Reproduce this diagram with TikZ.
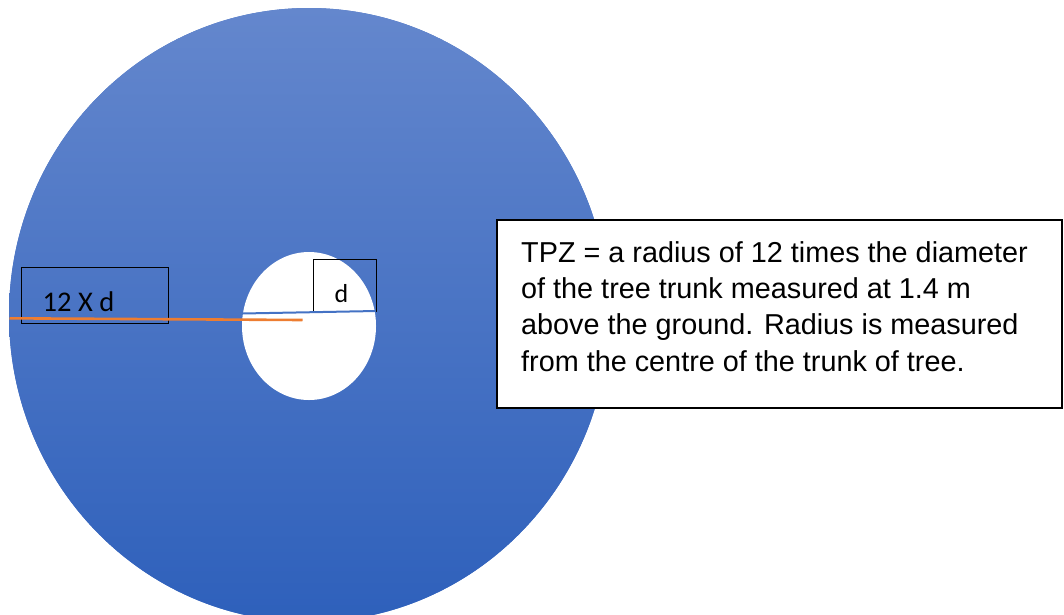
\documentclass[tikz,border=0pt]{standalone}
\usepackage{fontspec}
\setmainfont{Liberation Sans}
\newfontfamily\calibri{Carlito}
\usetikzlibrary{shapes.geometric}

\definecolor{zonetop}{RGB}{100,135,205}
\definecolor{zonebottom}{RGB}{46,96,187}
\definecolor{officeblue}{RGB}{68,114,196}
\definecolor{officeorange}{RGB}{237,125,49}

\tikzset{
  zone/.style={ellipse, inner sep=0pt, fill=zonetop!50!zonebottom, top color=zonetop, bottom color=zonebottom, draw=none},
  trunk/.style={ellipse, inner sep=0pt, fill=white, draw=none},
  labelbox/.style={draw=black, line width=0.9pt, inner sep=0pt},
  notebox/.style={draw=black, line width=1.6pt, fill=white, inner sep=0pt},
  radiusline/.style={officeorange, line width=2.6pt},
  diamline/.style={officeblue, line width=2pt},
}

\begin{document}
\begin{tikzpicture}[x=1pt, y=-1pt]
  \useasboundingbox (0,0) rectangle (1064,614);

  % tree protection zone and trunk
  \node[zone, minimum width=600pt, minimum height=614pt] (tpz) at (309,315) {};
  \node[trunk, minimum width=134pt, minimum height=148pt] (stem) at (309,326) {};

  % label boxes
  \node[labelbox, minimum width=147pt, minimum height=56pt] (rbox) at (94.5,295) {};
  \node[anchor=base west, inner sep=0pt, font=\calibri\fontsize{28.5}{31}\selectfont] (rtext) at (42.5,311.5) {12 X d};

  \node[labelbox, minimum width=63pt, minimum height=52pt] (dbox) at (344.5,285.5) {};
  \node[anchor=base, inner sep=0pt, font=\calibri\fontsize{26}{28}\selectfont] (dtext) at (341.5,302) {d};

  % radius and diameter lines
  \coordinate (rstart) at (9.5,318.3);
  \coordinate (rend) at (302.5,320);
  \draw[radiusline] (rstart) -- (rend);
  \coordinate (dstart) at (242,313.5);
  \coordinate (dend) at (376,311);
  \draw[diamline] (dstart) -- (dend);

  % explanatory note (multi-line node: base anchor sits on the last line)
  \node[notebox, minimum width=565pt, minimum height=188pt] (note) at (779.5,314) {};
  \node[anchor=base west, inner sep=0pt, align=left, font=\fontsize{28.8}{36.3}\selectfont] (notetext) at (521,371)
    {TPZ = a radius of 12 times the diameter\\
     of the tree trunk measured at 1.4 m\\
     above the ground. Radius is measured\\
     from the centre of the trunk of tree.};
\end{tikzpicture}
\end{document}
